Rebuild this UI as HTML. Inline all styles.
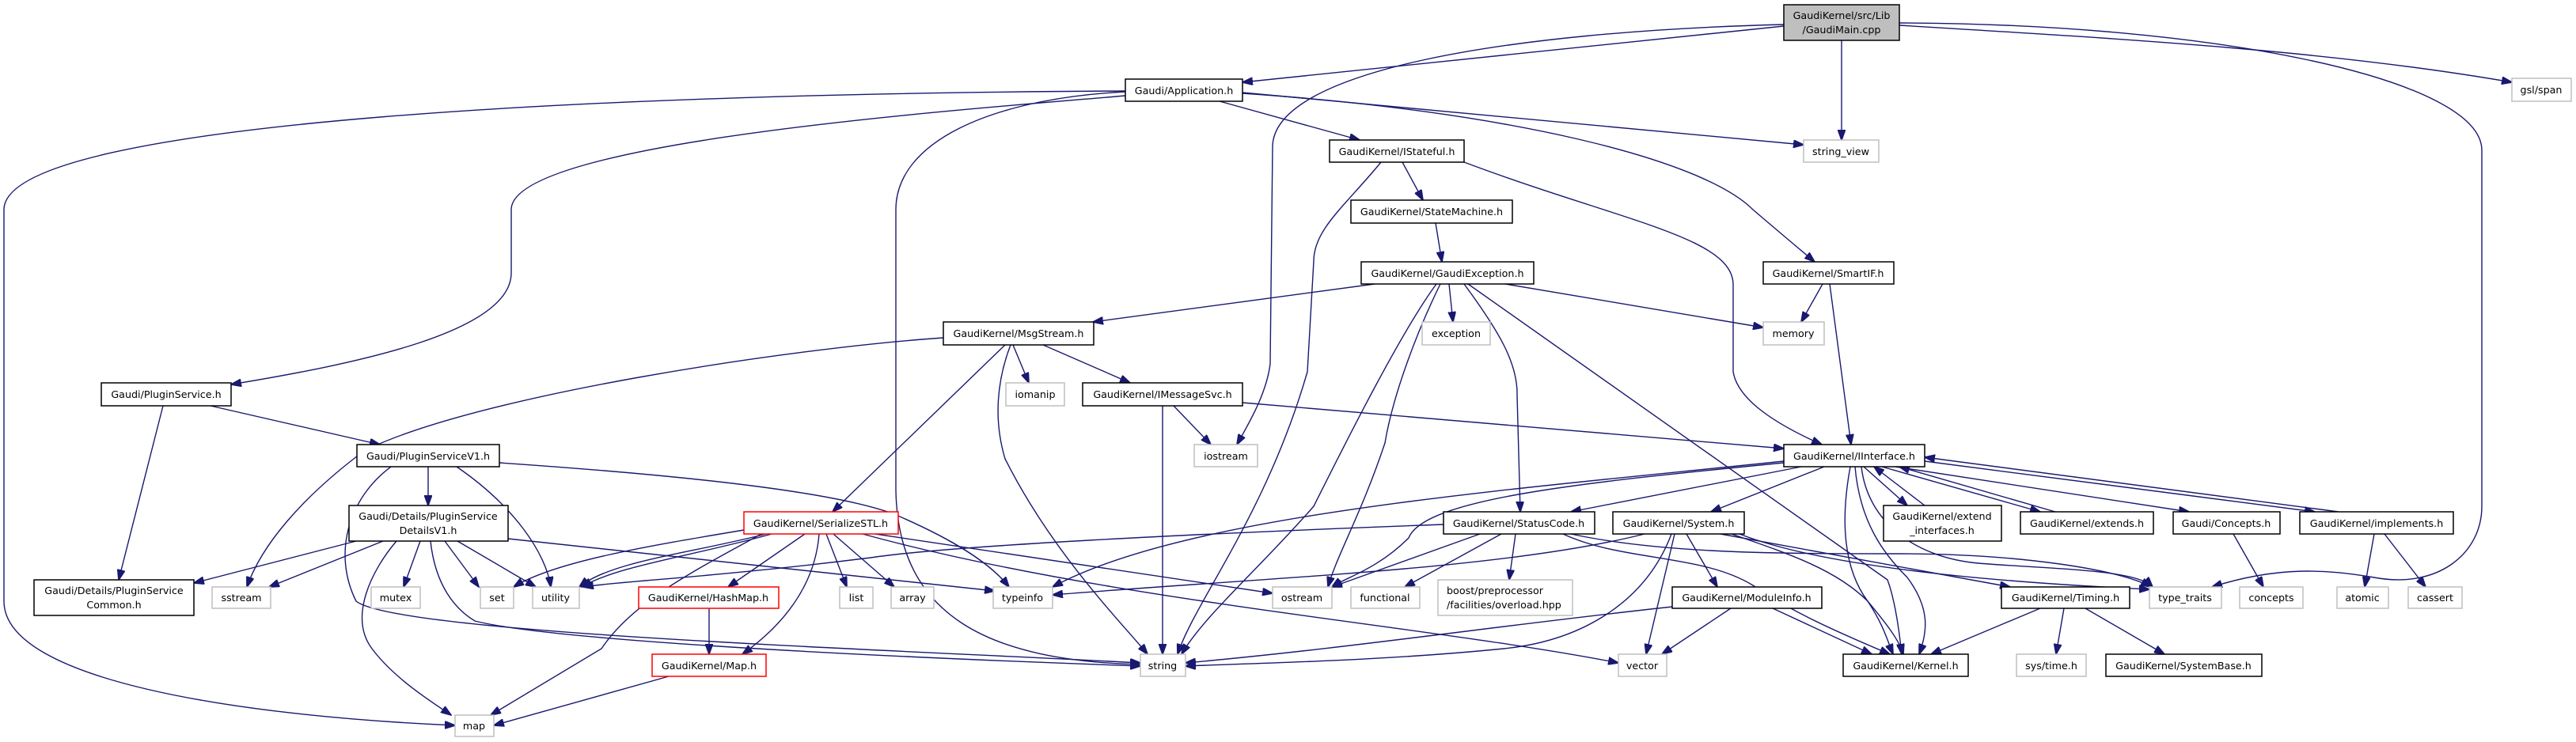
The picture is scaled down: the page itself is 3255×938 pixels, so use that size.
<!DOCTYPE html>
<html><head><meta charset="utf-8"><style>
html,body{margin:0;padding:0;background:#fff;}
svg{display:block;}
text{font-family:"DejaVu Sans","Liberation Sans",sans-serif;font-size:12.7px;fill:#000;}
.e{fill:none;stroke:#191970;stroke-width:1.4;}
.b{fill:#fff;stroke:#000;stroke-width:1.5;}
.g{fill:#fff;stroke:#bfbfbf;stroke-width:1.5;}
.r{fill:#fff;stroke:#ff0000;stroke-width:1.5;}
.m{fill:#bfbfbf;stroke:#000;stroke-width:1.5;}
</style></head><body>
<svg width="3255" height="938" viewBox="0 0 3255 938" xmlns="http://www.w3.org/2000/svg">
<defs>
<marker id="a" markerWidth="14" markerHeight="10" refX="13" refY="5" orient="auto" markerUnits="userSpaceOnUse">
<path d="M0,0 L14,5 L0,10 Z" fill="#191970" stroke="#191970"/>
</marker>
</defs>
<g class="e" marker-end="url(#a)">
<!-- Main -->
<path d="M2254,33 L1570,104"/>
<path d="M2254,31 C1900,40 1610,90 1608,185 L1605,460 C1600,500 1575,540 1563,562"/>
<path d="M2327,51 L2327,177"/>
<path d="M2400,32 C2700,50 2950,65 3174,104"/>
<path d="M2400,29 C2800,30 3136,100 3136,190 L3136,640 C3136,700 3080,745 3000,730 C2940,720 2880,715 2795,742"/>
<!-- Application -->
<path d="M1422,115 C800,118 5,150 5,265 L5,760 C5,860 300,905 575,917"/>
<path d="M1422,121 C1200,140 646,180 646,265 L646,345 C646,420 450,460 292,486"/>
<path d="M1422,116 C1250,125 1132,180 1132,265 L1132,620 C1135,780 1250,835 1441,840"/>
<path d="M1541,128 L1718,177"/>
<path d="M1570,117 L2279,183"/>
<path d="M1570,118 C1900,140 2150,200 2215,265 C2250,295 2280,320 2293,331"/>
<!-- IStateful -->
<path d="M1772,205 L1798,253"/>
<path d="M1745,205 C1700,260 1660,290 1660,330 L1652,470 C1600,650 1510,760 1488,827"/>
<path d="M1850,205 C2050,280 2190,300 2190,360 L2190,470 C2195,500 2230,530 2302,562"/>
<!-- StateMachine -->
<path d="M1814,282 L1822,331"/>
<!-- GaudiException -->
<path d="M1737,359 L1381,407"/>
<path d="M1831,359 L1836,407"/>
<path d="M1902,359 L2228,414"/>
<path d="M1815,359 C1770,420 1700,560 1660,640 C1590,720 1520,780 1493,827"/>
<path d="M1820,359 C1790,420 1760,500 1750,560 C1720,650 1690,700 1678,742"/>
<path d="M1850,359 C1895,420 1918,460 1917,500 L1921,647"/>
<path d="M1855,359 L2385,733 C2395,760 2400,800 2403,827"/>
<!-- MsgStream -->
<path d="M1192,427 C1000,440 600,500 460,570 C380,630 330,690 312,742"/>
<path d="M1280,436 L1300,484"/>
<path d="M1318,436 L1428,484"/>
<path d="M1270,436 L1052,647"/>
<path d="M1277,436 C1260,480 1255,530 1270,580 C1330,700 1420,790 1450,827"/>
<!-- IMessageSvc -->
<path d="M1469,513 L1469,827"/>
<path d="M1483,513 L1530,562"/>
<path d="M1570,509 L2254,567"/>
<!-- SmartIF -->
<path d="M2303,359 L2276,407"/>
<path d="M2312,359 L2339,562"/>
<!-- PluginService -->
<path d="M266,513 L480,562"/>
<path d="M206,513 L150,733"/>
<!-- PluginServiceV1 -->
<path d="M541,590 L541,639"/>
<path d="M577,590 C650,640 690,700 696,742"/>
<path d="M494,590 C440,630 420,700 450,760 C500,800 1100,820 1441,838"/>
<path d="M631,585 C850,600 1050,620 1130,650 C1200,680 1250,710 1275,742"/>
<!-- DetailsV1 -->
<path d="M450,684 L245,737"/>
<path d="M484,684 L340,742"/>
<path d="M501,684 C470,720 440,780 470,820 C500,860 550,890 570,904"/>
<path d="M531,684 L510,742"/>
<path d="M562,684 L605,742"/>
<path d="M578,684 L677,742"/>
<path d="M544,684 C550,740 575,770 600,785 C700,810 1100,830 1441,842"/>
<path d="M642,681 L1257,747"/>
<!-- SerializeSTL -->
<path d="M940,670 C820,690 700,710 649,742"/>
<path d="M968,675 C870,700 770,710 732,742"/>
<path d="M975,675 C880,702 780,715 735,742"/>
<path d="M1017,675 L920,742"/>
<path d="M962,675 C880,720 800,760 760,820 L620,904"/>
<path d="M1035,675 C1030,740 990,790 938,827"/>
<path d="M1044,675 L1070,742"/>
<path d="M1053,675 L1130,742"/>
<path d="M1106,675 L1608,750"/>
<path d="M1090,675 C1400,760 1800,790 2045,838"/>
<!-- Map/HashMap -->
<path d="M845,855 L624,917"/>
<path d="M896,769 L896,827"/>
<!-- IInterface -->
<path d="M2254,583 C1900,620 1500,650 1330,742"/>
<path d="M2254,585 C2000,610 1800,630 1780,680 C1740,720 1700,730 1683,742"/>
<path d="M2276,590 L1985,647"/>
<path d="M2305,590 L2162,647"/>
<path d="M2355,590 L2410,639"/>
<path d="M2432,639 L2368,590"/>
<path d="M2378,590 L2578,647"/>
<path d="M2597,647 L2400,590"/>
<path d="M2395,590 L2766,647"/>
<path d="M2432,583 L2925,647"/>
<path d="M2955,647 L2432,578"/>
<path d="M2338,590 C2325,660 2330,720 2360,760 C2385,790 2400,810 2405,827"/>
<path d="M2344,590 C2350,660 2380,700 2410,730 C2440,770 2435,800 2425,827"/>
<path d="M2352,590 C2360,660 2420,705 2500,712 C2600,720 2700,720 2720,742"/>
<!-- StatusCode -->
<path d="M1824,663 C1500,675 1200,690 1100,705 C900,730 780,735 737,742"/>
<path d="M1870,675 L1683,742"/>
<path d="M1897,675 L1775,742"/>
<path d="M1915,675 L1907,733"/>
<path d="M1975,675 C2050,710 2150,700 2215,740 C2260,770 2300,790 2388,827"/>
<path d="M1985,675 C2100,700 2250,700 2400,700 C2550,700 2680,720 2718,742"/>
<!-- System -->
<path d="M2078,675 C1900,720 1600,730 1330,752"/>
<path d="M2112,675 C2080,760 2000,810 1900,820 C1750,835 1600,838 1498,842"/>
<path d="M2116,675 L2080,827"/>
<path d="M2131,675 L2170,742"/>
<path d="M2174,675 L2540,742"/>
<path d="M2188,675 C2260,700 2320,720 2360,760 C2380,790 2385,810 2392,827"/>
<path d="M2198,675 C2300,715 2500,735 2716,745"/>
<!-- ModuleInfo -->
<path d="M2113,767 C1900,790 1700,820 1498,838"/>
<path d="M2187,769 L2100,827"/>
<path d="M2240,769 L2365,827"/>
<!-- Timing -->
<path d="M2578,769 L2440,827"/>
<path d="M2608,769 L2598,827"/>
<path d="M2635,769 L2735,827"/>
<!-- misc -->
<path d="M2822,675 L2860,742"/>
<path d="M3000,675 L2988,742"/>
<path d="M3013,675 L3065,742"/>
</g>
<!-- Nodes -->
<g>
<rect class="m" x="2254" y="6" width="146" height="45"/>
<text x="2327" y="24" text-anchor="middle">GaudiKernel/src/Lib</text>
<text x="2327" y="42" text-anchor="middle">/GaudiMain.cpp</text>

<rect class="b" x="1422" y="100" width="148" height="28"/><text x="1496" y="119" text-anchor="middle">Gaudi/Application.h</text>
<rect class="g" x="2279" y="177" width="95" height="28"/><text x="2326" y="196" text-anchor="middle">string_view</text>
<rect class="g" x="3174" y="99" width="75" height="29"/><text x="3211" y="118" text-anchor="middle">gsl/span</text>
<rect class="b" x="2228" y="331" width="165" height="28"/><text x="2310" y="350" text-anchor="middle">GaudiKernel/SmartIF.h</text>
<rect class="g" x="2228" y="407" width="77" height="29"/><text x="2266" y="426" text-anchor="middle">memory</text>
<rect class="b" x="1680" y="177" width="170" height="28"/><text x="1765" y="196" text-anchor="middle">GaudiKernel/IStateful.h</text>
<rect class="b" x="1707" y="253" width="204" height="29"/><text x="1809" y="272" text-anchor="middle">GaudiKernel/StateMachine.h</text>
<rect class="b" x="1720" y="331" width="218" height="28"/><text x="1829" y="350" text-anchor="middle">GaudiKernel/GaudiException.h</text>
<rect class="b" x="1192" y="407" width="190" height="29"/><text x="1287" y="426" text-anchor="middle">GaudiKernel/MsgStream.h</text>
<rect class="g" x="1797" y="407" width="86" height="29"/><text x="1840" y="426" text-anchor="middle">exception</text>
<rect class="b" x="128" y="484" width="164" height="29"/><text x="210" y="503" text-anchor="middle">Gaudi/PluginService.h</text>
<rect class="b" x="451" y="562" width="180" height="28"/><text x="541" y="581" text-anchor="middle">Gaudi/PluginServiceV1.h</text>
<rect class="b" x="441" y="639" width="201" height="45"/>
<text x="541" y="657" text-anchor="middle">Gaudi/Details/PluginService</text>
<text x="541" y="675" text-anchor="middle">DetailsV1.h</text>
<rect class="b" x="43" y="733" width="202" height="45"/>
<text x="144" y="751" text-anchor="middle">Gaudi/Details/PluginService</text>
<text x="144" y="769" text-anchor="middle">Common.h</text>
<rect class="g" x="268" y="742" width="74" height="27"/><text x="305" y="760" text-anchor="middle">sstream</text>
<rect class="g" x="469" y="742" width="62" height="27"/><text x="500" y="760" text-anchor="middle">mutex</text>
<rect class="g" x="607" y="742" width="42" height="27"/><text x="628" y="760" text-anchor="middle">set</text>
<rect class="g" x="673" y="742" width="59" height="27"/><text x="702" y="760" text-anchor="middle">utility</text>
<rect class="r" x="807" y="742" width="177" height="27"/><text x="895" y="760" text-anchor="middle">GaudiKernel/HashMap.h</text>
<rect class="g" x="1061" y="742" width="42" height="27"/><text x="1082" y="760" text-anchor="middle">list</text>
<rect class="r" x="824" y="827" width="144" height="28"/><text x="896" y="846" text-anchor="middle">GaudiKernel/Map.h</text>
<rect class="g" x="575" y="904" width="49" height="27"/><text x="599" y="922" text-anchor="middle">map</text>
<rect class="r" x="940" y="647" width="195" height="28"/><text x="1037" y="666" text-anchor="middle">GaudiKernel/SerializeSTL.h</text>
<rect class="g" x="1271" y="484" width="74" height="29"/><text x="1308" y="503" text-anchor="middle">iomanip</text>
<rect class="b" x="1368" y="484" width="202" height="29"/><text x="1469" y="503" text-anchor="middle">GaudiKernel/IMessageSvc.h</text>
<rect class="g" x="1509" y="562" width="80" height="28"/><text x="1549" y="581" text-anchor="middle">iostream</text>
<rect class="g" x="1126" y="742" width="54" height="27"/><text x="1153" y="760" text-anchor="middle">array</text>
<rect class="g" x="1255" y="742" width="75" height="27"/><text x="1292" y="760" text-anchor="middle">typeinfo</text>
<rect class="g" x="1608" y="742" width="75" height="27"/><text x="1645" y="760" text-anchor="middle">ostream</text>
<rect class="g" x="1707" y="742" width="87" height="27"/><text x="1750" y="760" text-anchor="middle">functional</text>
<rect class="g" x="1817" y="733" width="170" height="45"/>
<text x="1828" y="751">boost/preprocessor</text>
<text x="1828" y="769">/facilities/overload.hpp</text>
<rect class="b" x="1824" y="647" width="191" height="28"/><text x="1919" y="666" text-anchor="middle">GaudiKernel/StatusCode.h</text>
<rect class="b" x="2038" y="647" width="166" height="28"/><text x="2121" y="666" text-anchor="middle">GaudiKernel/System.h</text>
<rect class="g" x="1441" y="827" width="57" height="28"/><text x="1469" y="846" text-anchor="middle">string</text>
<rect class="g" x="2045" y="827" width="61" height="28"/><text x="2075" y="846" text-anchor="middle">vector</text>
<rect class="b" x="2113" y="742" width="189" height="27"/><text x="2207" y="760" text-anchor="middle">GaudiKernel/ModuleInfo.h</text>
<rect class="b" x="2254" y="562" width="178" height="28"/><text x="2343" y="581" text-anchor="middle">GaudiKernel/IInterface.h</text>
<rect class="b" x="2380" y="639" width="149" height="45"/>
<text x="2454" y="657" text-anchor="middle">GaudiKernel/extend</text>
<text x="2454" y="675" text-anchor="middle">_interfaces.h</text>
<rect class="b" x="2553" y="647" width="168" height="28"/><text x="2637" y="666" text-anchor="middle">GaudiKernel/extends.h</text>
<rect class="b" x="2746" y="647" width="135" height="28"/><text x="2813" y="666" text-anchor="middle">Gaudi/Concepts.h</text>
<rect class="b" x="2906" y="647" width="194" height="28"/><text x="3003" y="666" text-anchor="middle">GaudiKernel/implements.h</text>
<rect class="b" x="2529" y="742" width="162" height="27"/><text x="2610" y="760" text-anchor="middle">GaudiKernel/Timing.h</text>
<rect class="g" x="2716" y="742" width="91" height="27"/><text x="2761" y="760" text-anchor="middle">type_traits</text>
<rect class="g" x="2830" y="742" width="80" height="27"/><text x="2870" y="760" text-anchor="middle">concepts</text>
<rect class="g" x="2953" y="742" width="65" height="27"/><text x="2985" y="760" text-anchor="middle">atomic</text>
<rect class="g" x="3043" y="742" width="68" height="27"/><text x="3077" y="760" text-anchor="middle">cassert</text>
<rect class="b" x="2329" y="827" width="158" height="28"/><text x="2408" y="846" text-anchor="middle">GaudiKernel/Kernel.h</text>
<rect class="g" x="2548" y="827" width="88" height="28"/><text x="2592" y="846" text-anchor="middle">sys/time.h</text>
<rect class="b" x="2661" y="827" width="197" height="28"/><text x="2759" y="846" text-anchor="middle">GaudiKernel/SystemBase.h</text>
</g>
</svg>
</body></html>
